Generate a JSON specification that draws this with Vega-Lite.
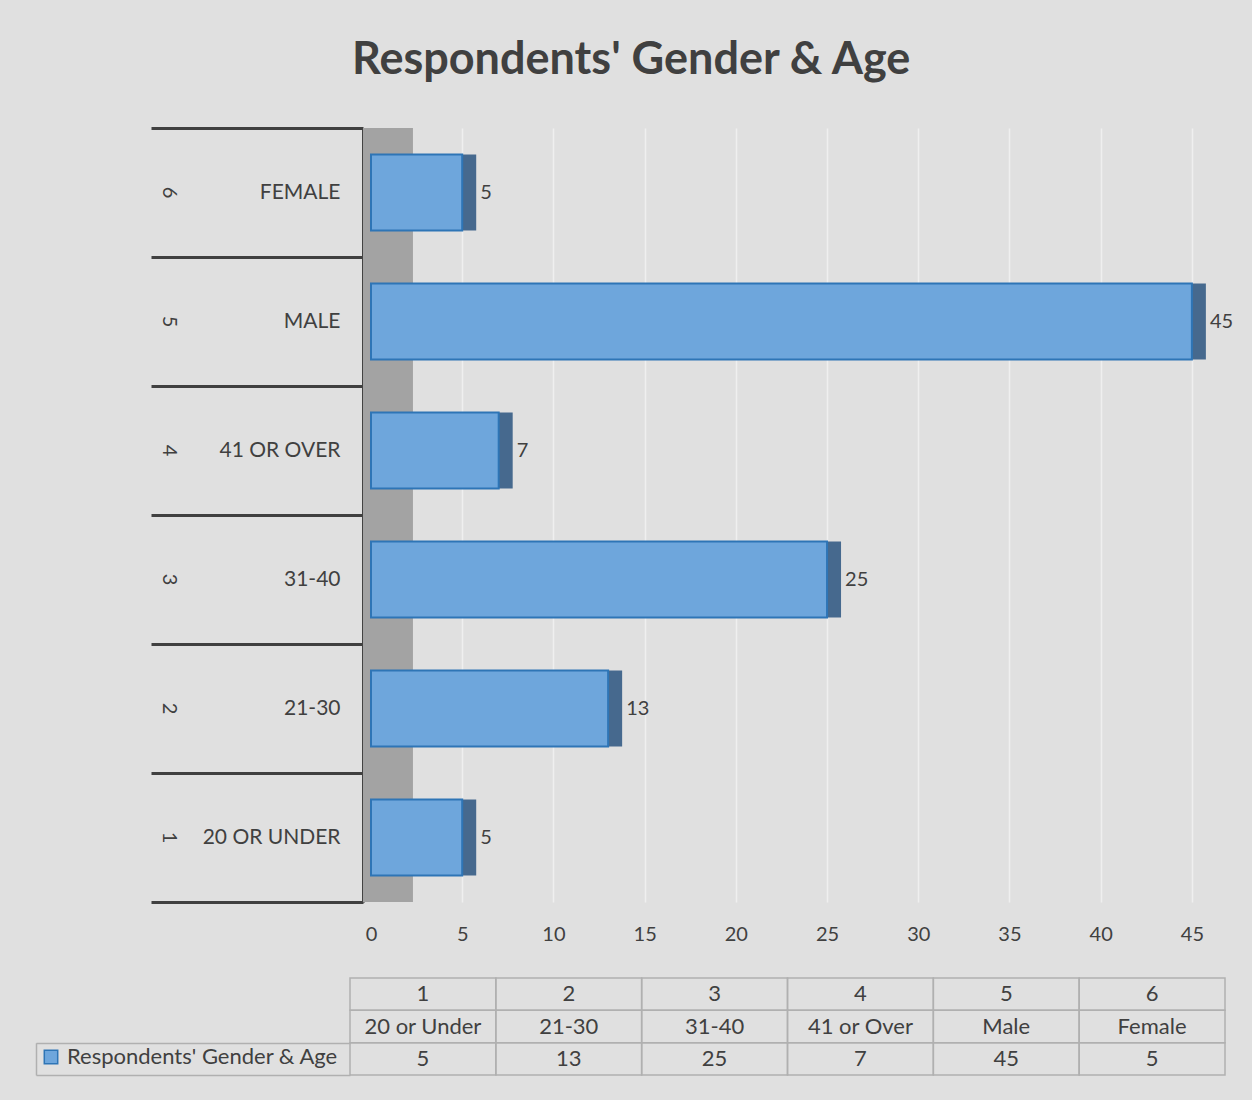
{
  "$schema": "https://vega.github.io/schema/vega-lite/v6.json",
  "background": "#e0e0e0",
  "padding": {"left": 35, "top": 37, "right": 28, "bottom": 24},
  "title": {"text": "Respondents' Gender & Age", "fontSize": 45, "fontWeight": "bold", "color": "#404040", "anchor": "middle", "offset": 44, "dx": -3},
  "datasets": {
    "groups": [
      {"num": 1, "group": "20 or Under", "count": 5},
      {"num": 2, "group": "21-30", "count": 13},
      {"num": 3, "group": "31-40", "count": 25},
      {"num": 4, "group": "41 or Over", "count": 7},
      {"num": 5, "group": "Male", "count": 45},
      {"num": 6, "group": "Female", "count": 5}
    ]
  },
  "spacing": 33,
  "resolve": {"legend": {"color": "independent"}},
  "config": {"font": "Lato", "view": {"stroke": null}},
  "vconcat": [
    {
      "width": 851,
      "height": 774,
      "layer": [
        {
          "data": {"values": [{}]},
          "mark": {"type": "rect", "color": "#a3a3a3"},
          "encoding": {
            "x": {"datum": -0.44, "type": "quantitative"},
            "x2": {"datum": 2.3}
          }
        },
        {
          "data": {"name": "groups"},
          "mark": {"type": "bar", "color": "#46698e", "xOffset": 14, "height": {"band": 0.59}},
          "encoding": {
            "y": {
              "field": "group", "type": "nominal",
              "sort": {"field": "num", "order": "descending"},
              "scale": {"paddingInner": 0, "paddingOuter": 0},
              "axis": {"orient": "left", "title": null, "ticks": false, "domain": false, "grid": false,
                "labelExpr": "round(6 - 5 * datum.index)", "labelAngle": 90, "labelAlign": "center", "labelBaseline": "middle",
                "labelPadding": 182, "labelFontSize": 20, "labelColor": "#404040"}
            },
            "x": {"field": "count", "type": "quantitative"}
          }
        },
        {
          "data": {"name": "groups"},
          "mark": {"type": "bar", "fill": "#6ea6dc", "stroke": "#2e75b6", "strokeWidth": 2, "height": {"band": 0.59}},
          "encoding": {
            "y": {
              "field": "group", "type": "nominal",
              "sort": {"field": "num", "order": "descending"},
              "scale": {"paddingInner": 0, "paddingOuter": 0},
              "axis": {"orient": "left", "offset": -13, "title": null, "labels": false, "grid": false,
                "ticks": true, "tickBand": "extent", "tickSize": 212, "tickWidth": 3, "tickColor": "#404040",
                "domain": true, "domainWidth": 3, "domainColor": "#404040"}
            },
            "x": {
              "field": "count", "type": "quantitative",
              "scale": {"domain": [-1.151, 45.5], "nice": false},
              "axis": {"title": null, "values": [0, 5, 10, 15, 20, 25, 30, 35, 40, 45],
                "grid": true, "gridColor": "#efefef", "gridWidth": 1.5,
                "gridOpacity": {"condition": {"test": "datum.value === 0", "value": 0}, "value": 1},
                "ticks": false, "domain": false, "labelFontSize": 20, "labelColor": "#404040", "labelPadding": 22}
            }
          }
        },
        {
          "data": {"name": "groups"},
          "mark": {"type": "text", "align": "left", "baseline": "middle", "dx": 18, "fontSize": 20, "color": "#404040"},
          "encoding": {
            "y": {
              "field": "group", "type": "nominal",
              "sort": {"field": "num", "order": "descending"},
              "scale": {"paddingInner": 0, "paddingOuter": 0},
              "axis": {"orient": "left", "title": null, "ticks": false, "domain": false, "grid": false,
                "labelExpr": "upper(datum.label)", "labelAlign": "right", "labelBaseline": "middle",
                "labelPadding": 10, "labelFontSize": 21, "labelColor": "#404040"}
            },
            "x": {"field": "count", "type": "quantitative"},
            "text": {"field": "count", "type": "quantitative"}
          }
        }
      ],
      "resolve": {"axis": {"y": "independent"}}
    },
    {
      "width": 875,
      "height": 97,
      "data": {"name": "groups"},
      "transform": [{"fold": ["num", "group", "count"], "as": ["row", "cell"]}],
      "layer": [
        {
          "mark": {"type": "rect", "fill": "transparent", "stroke": "#b0b0b0", "strokeWidth": 1.5},
          "encoding": {
            "x": {"field": "num", "type": "ordinal", "axis": null, "scale": {"paddingInner": 0, "paddingOuter": 0}},
            "y": {
              "field": "row", "type": "nominal", "sort": ["num", "group", "count"],
              "scale": {"paddingInner": 0, "paddingOuter": 0},
              "axis": {"orient": "left", "title": null, "labels": false, "grid": false, "domain": false,
                "ticks": true, "tickBand": "extent", "tickSize": 314, "tickWidth": 1.5, "tickColor": "#b0b0b0",
                "tickOpacity": {"condition": {"test": "datum.value === 'group' || datum.value === 'count'", "value": 1}, "value": 0}}
            }
          }
        },
        {
          "mark": {"type": "text", "fontSize": 22, "color": "#404040", "baseline": "middle"},
          "encoding": {
            "x": {"field": "num", "type": "ordinal", "axis": null},
            "y": {"field": "row", "type": "nominal", "sort": ["num", "group", "count"], "axis": null},
            "text": {"field": "cell"}
          }
        },
        {
          "mark": {"type": "point", "opacity": 0, "filled": true},
          "encoding": {
            "x": {"field": "num", "type": "ordinal", "axis": null},
            "y": {
              "field": "row", "type": "nominal", "sort": ["num", "group", "count"],
              "axis": {"orient": "left", "offset": 314, "title": null, "labels": false, "grid": false, "ticks": false,
                "domain": true, "domainColor": "#b0b0b0", "domainWidth": 1.5, "domainDash": [0, 64.67, 32.33]}
            },
            "color": {
              "datum": "Respondents' Gender & Age",
              "scale": {"range": ["#6ea6dc"]},
              "legend": {"title": null, "orient": "none", "legendX": -310, "legendY": 68, "padding": 0,
                "symbolType": "square", "symbolSize": 180, "symbolStrokeColor": "#2e75b6", "symbolStrokeWidth": 1.5,
                "symbolOpacity": 1, "labelFontSize": 22, "labelColor": "#404040", "labelOffset": 5, "labelLimit": 0}
            }
          }
        }
      ],
      "resolve": {"axis": {"y": "independent"}}
    }
  ]
}
